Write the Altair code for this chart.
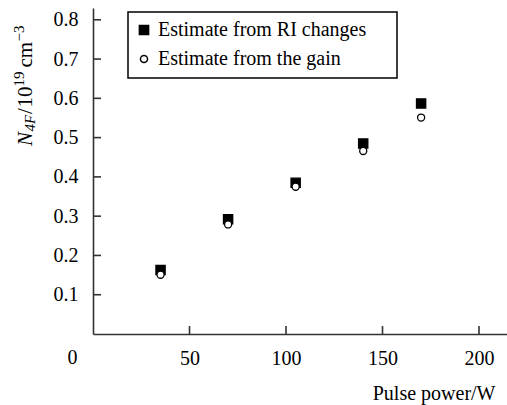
import altair as alt
import pandas as pd

power = [35, 70, 105, 140, 170]
ri_est = [0.163, 0.292, 0.385, 0.485, 0.587]
gain_est = [0.151, 0.279, 0.375, 0.466, 0.551]
series_names = ["Estimate from RI changes", "Estimate from the gain"]
x_ticks = [50, 100, 150, 200]
y_ticks = [0.1, 0.2, 0.3, 0.4, 0.5, 0.6, 0.7, 0.8]

FONT = "Liberation Serif"
FS = 20
W, H = 414, 326
AX = "#333333"

rows = []
for p, v in zip(power, ri_est):
    rows.append({"power": p, "n": v, "series": series_names[0]})
for p, v in zip(power, gain_est):
    rows.append({"power": p, "n": v, "series": series_names[1]})
df = pd.DataFrame(rows)

xs = alt.Scale(domain=[0, 214.5], nice=False, zero=False)
ys = alt.Scale(domain=[0, 0.83], nice=False, zero=False)


def make_legend():
    return alt.Legend(orient="none", legendX=31, legendY=2, title=None,
                      padding=10,
                      labelFont=FONT, labelFontSize=FS, labelColor="black",
                      rowPadding=9, labelOffset=4,
                      symbolStrokeWidth=1.5, symbolStrokeColor="black",
                      labelLimit=400)


points = alt.Chart(df).mark_point(filled=True, strokeWidth=1.3, opacity=1).encode(
    x=alt.X("power:Q", scale=xs, axis=alt.Axis(
        values=x_ticks, ticks=False, tickSize=0, grid=False, domainColor=AX, domainWidth=1.6,
        labelFont=FONT, labelFontSize=FS, labelColor="black", labelPadding=14,
        title="Pulse power/W", titleFont=FONT, titleFontSize=FS, titleFontWeight="normal",
        titleColor="black", titleAnchor="end", titleAlign="right", titleBaseline="middle",
        titleX=402, titleY=59)),
    y=alt.Y("n:Q", scale=ys, axis=alt.Axis(
        values=y_ticks, ticks=False, tickSize=0, grid=False, domainColor=AX, domainWidth=1.6,
        labelFont=FONT, labelFontSize=FS, labelColor="black", labelPadding=15, format=".1f",
        title=None)),
    shape=alt.Shape("series:N", scale=alt.Scale(domain=series_names, range=["square", "circle"]),
                    legend=make_legend()),
    fill=alt.Fill("series:N", scale=alt.Scale(domain=series_names, range=["black", "white"]),
                  legend=make_legend()),
    stroke=alt.Stroke("series:N", scale=alt.Scale(domain=series_names, range=["black", "black"]),
                      legend=make_legend()),
    size=alt.Size("series:N", scale=alt.Scale(domain=series_names, range=[85, 50]),
                  legend=make_legend()),
)

# legend frame
frame = alt.Chart(pd.DataFrame({"k": [0]})).mark_rect(
    fill="white", stroke="black", strokeWidth=1.5).encode(
    x=alt.value(35), x2=alt.value(304), y=alt.value(4), y2=alt.value(70))

xtick_df = pd.DataFrame({"t": x_ticks})
ytick_df = pd.DataFrame({"t": y_ticks})

xticks = alt.Chart(xtick_df).mark_rule(color=AX, strokeWidth=1.6).encode(
    x=alt.X("t:Q", scale=xs), y=alt.value(H), y2=alt.value(H - 8))
yticks = alt.Chart(ytick_df).mark_rule(color=AX, strokeWidth=1.6).encode(
    y=alt.Y("t:Q", scale=ys), x=alt.value(0), x2=alt.value(8))

origin_df = pd.DataFrame({"x": [0], "y": [0], "label": ["0"]})
origin = alt.Chart(origin_df).mark_text(font=FONT, fontSize=FS, color="black", dx=-20.5, dy=23.5,
                                         baseline="middle", align="center").encode(
    x=alt.X("x:Q", scale=xs), y=alt.Y("y:Q", scale=ys), text="label:N")

# y-axis title pieces: N_{4F} / 10^{19} cm^{-3}  (absolute page x, y)
ytitle_parts = [
    ("N", "italic", 21, 31.5, 146),
    ("4F", "italic", 15, 35, 131.5),
    ("/", "normal", 21, 31.5, 114),
    ("10", "normal", 21, 31.5, 107.5),
    ("19", "normal", 15, 23.5, 86.5),
    ("cm", "normal", 21, 31.5, 67.5),
    ("\u22123", "normal", 15, 23.5, 41.5),
]
ytitle_layers = []
for txt, style, size, px, py in ytitle_parts:
    ytitle_layers.append(
        alt.Chart(pd.DataFrame({"t": [txt]})).mark_text(
            font=FONT, fontSize=size, fontStyle=style, color="black", angle=270,
            align="left", baseline="alphabetic").encode(
            text="t:N", x=alt.value(px - 93), y=alt.value(py - 8)))

chart = alt.layer(frame, xticks, yticks, points, origin, *ytitle_layers).properties(
    width=W, height=H,
    autosize=alt.AutoSizeParams(type="none"),
    padding={"left": 93, "top": 8, "right": 0, "bottom": 71},
).configure_view(stroke=None)

chart.save("out.html", embed_options={"renderer": "svg", "actions": False})
